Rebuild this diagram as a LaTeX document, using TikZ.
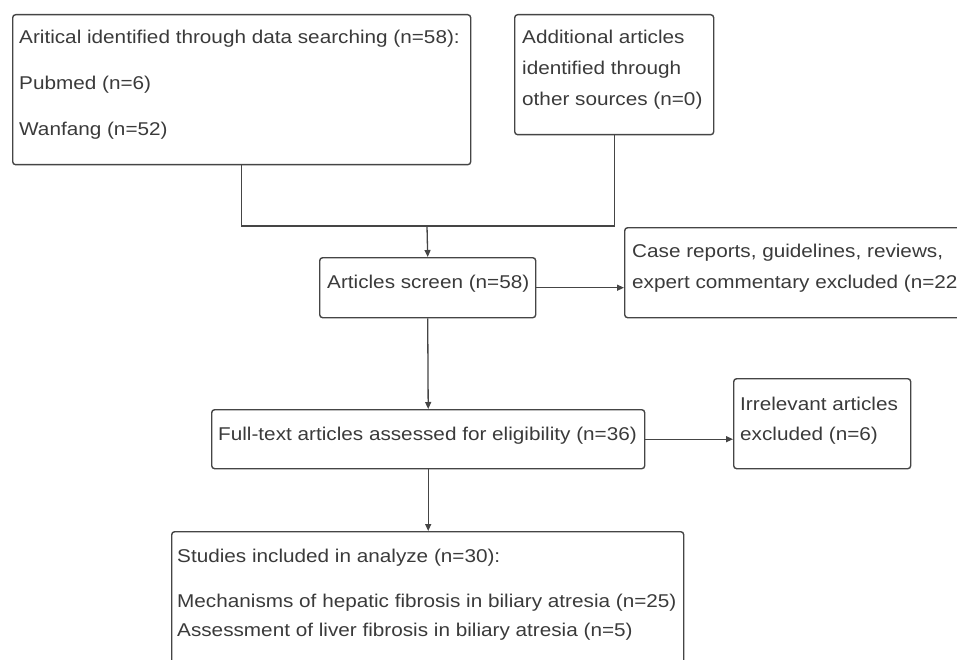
\documentclass[tikz,border=0pt]{standalone}
\usepackage{fontspec}
\setmainfont{Liberation Sans}[FakeStretch=1.12]
\usetikzlibrary{arrows.meta}
\definecolor{linec}{HTML}{454545}
\definecolor{txtc}{HTML}{3A3A3A}
\begin{document}
\begin{tikzpicture}[x=1pt,y=-1pt,
  box/.style={draw=linec, line width=1.4pt, rounded corners=3pt, inner sep=0pt, anchor=north west},
  txt/.style={anchor=base west, inner sep=0pt, text=txtc, font=\fontsize{18.5}{22}\selectfont},
  conn/.style={draw=linec, line width=1.3pt},
  arr/.style={conn, -{Triangle[length=7pt,width=6pt]}}]
\useasboundingbox (0,0) rectangle (957,660);
% boxes
\node[box, minimum width=458pt, minimum height=150pt] (b1) at (12,14) {};
\node[box, minimum width=199pt, minimum height=120pt] (b2) at (514,14) {};
\node[box, minimum width=216pt, minimum height=60pt] (scr) at (319,257) {};
\node[box, minimum width=350pt, minimum height=90pt] (cas) at (624,227) {};
\node[box, minimum width=433pt, minimum height=59pt] (ful) at (211,409) {};
\node[box, minimum width=177pt, minimum height=90pt] (irr) at (733,378) {};
\node[box, minimum width=512pt, minimum height=150pt] (inc) at (171,531) {};
% texts
\node[txt] (t11) at (19,44) {Aritical identified through data searching (n=58):};
\node[txt] (t12) at (19,90) {Pubmed (n=6)};
\node[txt] (t13) at (19,136) {Wanfang (n=52)};
\node[txt] (t21) at (522,44) {Additional articles};
\node[txt] (t22) at (522,75) {identified through};
\node[txt] (t23) at (522,106) {other sources (n=0)};
\node[txt] (t31) at (327,288) {Articles screen (n=58)};
\node[txt] (t41) at (632,257) {Case reports, guidelines, reviews,};
\node[txt] (t42) at (632,288) {expert commentary excluded (n=22)};
\node[txt] (t51) at (218,440) {Full-text articles assessed for eligibility (n=36)};
\node[txt] (t61) at (740,410) {Irrelevant articles};
\node[txt] (t62) at (740,440) {excluded (n=6)};
\node[txt] (t71) at (177,562) {Studies included in analyze (n=30):};
\node[txt] (t72) at (177,607) {Mechanisms of hepatic fibrosis in biliary atresia (n=25)};
\node[txt] (t73) at (177,636) {Assessment of liver fibrosis in biliary atresia (n=5)};
% connectors
\coordinate (j) at (427,226);
\draw[conn] (b1.south) |- (j);
\draw[conn] (b2.south) |- (j);
\draw[arr] (j) -- (scr.north);
\draw[arr] (scr.east) -- (scr.east -| cas.west);
\draw[arr] (scr.south) -- (ful.north);
\draw[arr] (ful.east) -- (ful.east -| irr.west);
\draw[arr] (ful.south) -- (ful.south |- inc.north);
\end{tikzpicture}
\end{document}
